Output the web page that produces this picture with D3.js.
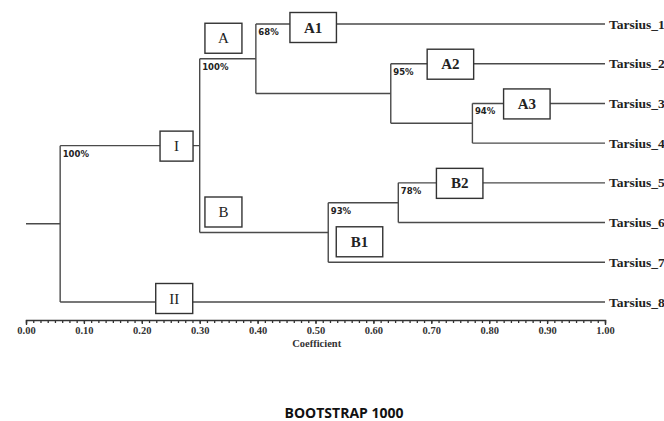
<!DOCTYPE html>
<html>
<head>
<meta charset="utf-8">
<title>Tarsius dendrogram</title>
<script src="https://cdnjs.cloudflare.com/ajax/libs/d3/7.8.5/d3.min.js"></script>
<style>
  body { margin: 0; background: #fff; }
  .branch { stroke: #4a4a4a; stroke-width: 1.4; fill: none; }
  .box rect { fill: #fff; stroke: #333; stroke-width: 1.4; }
  .boot { font-family: "DejaVu Sans", sans-serif; font-weight: bold; font-size: 8.5px; fill: #222; }
  .leaf { font-family: "Liberation Serif", serif; font-weight: bold; font-size: 13.5px; fill: #222; }
  .axis text { font-family: "Liberation Serif", serif; font-weight: bold; font-size: 10.5px; fill: #333; }
  .axis path, .axis line { stroke: #333; stroke-width: 1.3; }
</style>
</head>
<body>
<script>
var w = 664, h = 421;

// leaves, top to bottom
var leaves = ["Tarsius_1", "Tarsius_2", "Tarsius_3", "Tarsius_4",
              "Tarsius_5", "Tarsius_6", "Tarsius_7", "Tarsius_8"];

// internal nodes: name, coefficient where it joins, children, bootstrap
var nodeNames  = ["root", "I",  "A",   "A2n",  "A3n",  "B",    "B2n"];
var nodeHeight = [0.059,  0.30, 0.397, 0.630,  0.771,  0.522,  0.643];
var nodeKids   = [["I", "Tarsius_8"], ["A", "B"], ["Tarsius_1", "A2n"],
                  ["Tarsius_2", "A3n"], ["Tarsius_3", "Tarsius_4"],
                  ["B2n", "Tarsius_7"], ["Tarsius_5", "Tarsius_6"]];
var bootstrap  = ["100%", "100%", "68%", "95%", "94%", "93%", "78%"];

// clade boxes: text, branch (child end), centre along axis, on/above the line
var boxText   = ["I",   "II",        "A",   "B",   "A1",        "A2",        "A3",        "B1",        "B2"];
var boxBranch = ["I",   "Tarsius_8", "A",   "B",   "Tarsius_1", "Tarsius_2", "Tarsius_3", "Tarsius_7", "Tarsius_5"];
var boxAt     = [0.260, 0.256,       0.341, 0.341, 0.496,       0.733,       0.865,       0.576,       0.749];
var boxAbove  = [false, false,       true,  true,  false,       false,       false,       true,        false];

var ticks = d3.range(0, 11).map(function(i) { return i / 10; });
var minorTicks = d3.range(0, 81).map(function(i) { return i / 80; });

var x = d3.scaleLinear().domain([0, 1]).range([26, 605]);
var y = d3.scalePoint().domain(leaves).range([24, 302]);

var svg = d3.select("body").append("svg")
    .attr("width", w).attr("height", h)
    .style("font-family", "Liberation Serif, serif");

// build node table
var nodes = {};
leaves.forEach(function(l) { nodes[l] = { name: l, h: 1, leaf: true }; });
nodeNames.forEach(function(n, i) {
  nodes[n] = { name: n, h: nodeHeight[i], kids: nodeKids[i], boot: bootstrap[i] };
});
function ypos(n) {
  var d = nodes[n];
  if (d.leaf) return (d.y = y(n));
  var ys = d.kids.map(ypos);
  d.y = (d3.min(ys) + d3.max(ys)) / 2;
  return d.y;
}
ypos("root");
nodeNames.forEach(function(n) {
  nodes[n].kids.forEach(function(k) { nodes[k].parent = n; });
});

var g = svg.append("g");

// root stem
g.append("line").attr("class", "branch")
  .attr("x1", x(0)).attr("x2", x(nodes.root.h))
  .attr("y1", nodes.root.y).attr("y2", nodes.root.y);

// verticals
nodeNames.forEach(function(n) {
  var d = nodes[n];
  var ys = d.kids.map(function(k) { return nodes[k].y; });
  g.append("line").attr("class", "branch")
    .attr("x1", x(d.h)).attr("x2", x(d.h))
    .attr("y1", d3.min(ys)).attr("y2", d3.max(ys));
});

// horizontals
Object.keys(nodes).forEach(function(n) {
  var d = nodes[n];
  if (!d.parent) return;
  g.append("line").attr("class", "branch")
    .attr("x1", x(nodes[d.parent].h)).attr("x2", x(d.h))
    .attr("y1", d.y).attr("y2", d.y);
});

// bootstrap labels
nodeNames.forEach(function(n) {
  var d = nodes[n];
  var top = d3.min(d.kids.map(function(k) { return nodes[k].y; }));
  g.append("text").attr("class", "boot")
    .attr("x", x(d.h) + 2.5).attr("y", top + 11)
    .text(d.boot);
});

// leaf labels
leaves.forEach(function(l) {
  g.append("text").attr("class", "leaf")
    .attr("x", x(1) + 4).attr("y", y(l) + 4.5)
    .text(l);
});

// clade boxes
boxText.forEach(function(t, i) {
  var ly = nodes[boxBranch[i]].y;
  var bw = /\d/.test(t) ? 46.5 : (t === "I" ? 33 : 37);
  var bh = 30;
  var cy = boxAbove[i] ? ly - 5.5 - bh / 2 : ly + (t === "A1" ? 3.5 : (t === "II" ? -3.5 : 0.5));
  var cx = x(boxAt[i]);
  var bg = g.append("g").attr("class", "box");
  bg.append("rect")
    .attr("x", cx - bw / 2).attr("y", cy - bh / 2)
    .attr("width", bw).attr("height", bh);
  bg.append("text")
    .attr("x", cx).attr("y", cy + 5)
    .attr("text-anchor", "middle")
    .style("font-family", "Liberation Serif, serif")
    .style("font-size", "15px")
    .style("font-weight", /\d/.test(t) ? "bold" : "normal")
    .style("fill", "#222")
    .text(t);
});

// axis
var axisY = 320;
svg.append("g").attr("class", "axis")
  .attr("transform", "translate(0," + axisY + ")")
  .call(d3.axisBottom(x).tickValues(minorTicks).tickSize(3).tickSizeOuter(5).tickFormat(""));
svg.append("g").attr("class", "axis")
  .attr("transform", "translate(0," + axisY + ")")
  .call(d3.axisBottom(x).tickValues(ticks).tickSize(4).tickSizeOuter(5).tickPadding(3)
        .tickFormat(d3.format(".2f")))
  .call(function(a) { a.select(".domain").remove(); });

svg.append("text")
  .attr("x", x(0.502)).attr("y", 346.5)
  .attr("text-anchor", "middle")
  .style("font-family", "Liberation Serif, serif")
  .style("font-weight", "bold").style("font-size", "10.5px").style("fill", "#333")
  .text("Coefficient");

svg.append("text")
  .attr("x", 344).attr("y", 418)
  .attr("text-anchor", "middle")
  .style("font-family", "Open Sans, sans-serif")
  .style("font-weight", "bold").style("font-size", "14px").style("fill", "#111")
  .text("BOOTSTRAP 1000");
</script>
</body>
</html>
